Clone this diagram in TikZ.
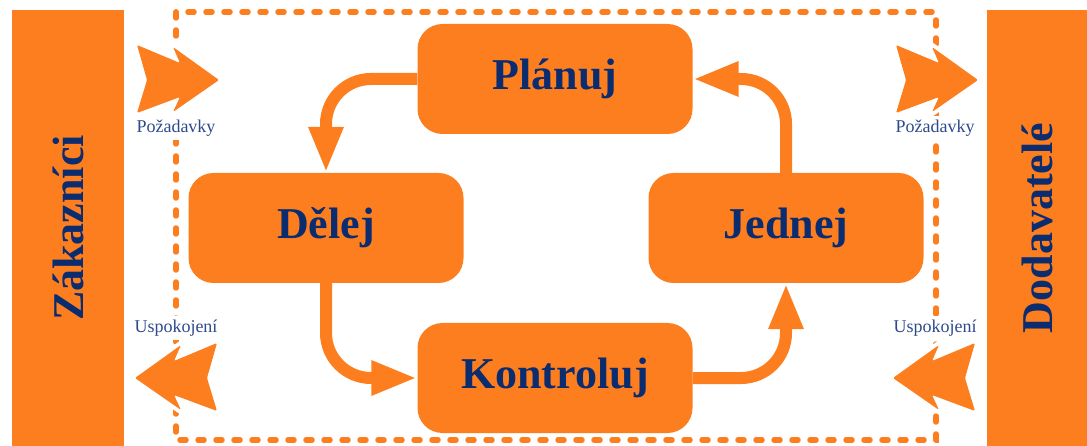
\documentclass[tikz,border=0pt]{standalone}
\usepackage{fontspec}
\setmainfont{Liberation Serif}
\usetikzlibrary{arrows.meta}
\definecolor{org}{RGB}{253,126,30}
\definecolor{navy}{RGB}{12,44,112}
\definecolor{lbl}{RGB}{45,75,140}
\begin{document}
\begin{tikzpicture}[x=1pt,y=-1pt,
  box/.style={fill=org, rounded corners=25pt, minimum width=275pt, minimum height=110pt,
    inner sep=0pt, text=navy, font=\fontsize{44}{50}\selectfont\bfseries},
  bar/.style={fill=org, rotate=90, minimum width=436pt, inner sep=0pt,
    text=navy, font=\fontsize{44}{50}\selectfont\bfseries},
  conn/.style={draw=org, line width=12pt, -{Triangle[length=46pt,width=32pt]}, rounded corners=45pt},
  lab/.style={text=lbl, font=\fontsize{18}{20}\selectfont, fill=white, inner sep=4pt},
  chev/.style={fill=org, rounded corners=1.5pt, preaction={draw=white, line width=8pt}},
  frame/.style={draw=org, line width=5.5pt, line cap=round, dash pattern=on 6pt off 12pt}
]
\useasboundingbox (0,0) rectangle (1087,446);
% dashed frame
\draw[frame] (176,12) rectangle (936,440);
% side bars
\node[bar, minimum height=112pt] (cust) at (68,228) {Zákazníci};
\node[bar, minimum height=100pt] (supp) at (1037,228) {Dodavatelé};
% cycle boxes
\node[box] (plan) at (555,79) {Plánuj};
\node[box] (del) at (326,228) {Dělej};
\node[box] (jed) at (786,228) {Jednej};
\node[box] (kon) at (555,378) {Kontroluj};
% connectors
\draw[conn] (plan.west) -| (del.north);
\draw[conn] (del.south) |- (kon.west);
\draw[conn] (kon.east) -| (jed.south);
\draw[conn] (jed.north) |- (plan.east);
% chevrons
\foreach \tx/\ty/\s in {219/80/1, 978/80/1, 135/378/-1, 893/378/-1}{
  \path[chev, shift={(\tx,\ty)}, xscale=\s]
    (-82,-35) -- (-39,-17) -- (-46,-33) -- (0,0) -- (-46,32) -- (-39,17) -- (-82,33) -- (-72,0) -- cycle;
}
% labels
\node[lab] (req1) at (176,128) {Požadavky};
\node[lab] (req2) at (935,128) {Požadavky};
\node[lab] (sat1) at (176,328) {Uspokojení};
\node[lab] (sat2) at (935,328) {Uspokojení};
\end{tikzpicture}
\end{document}
